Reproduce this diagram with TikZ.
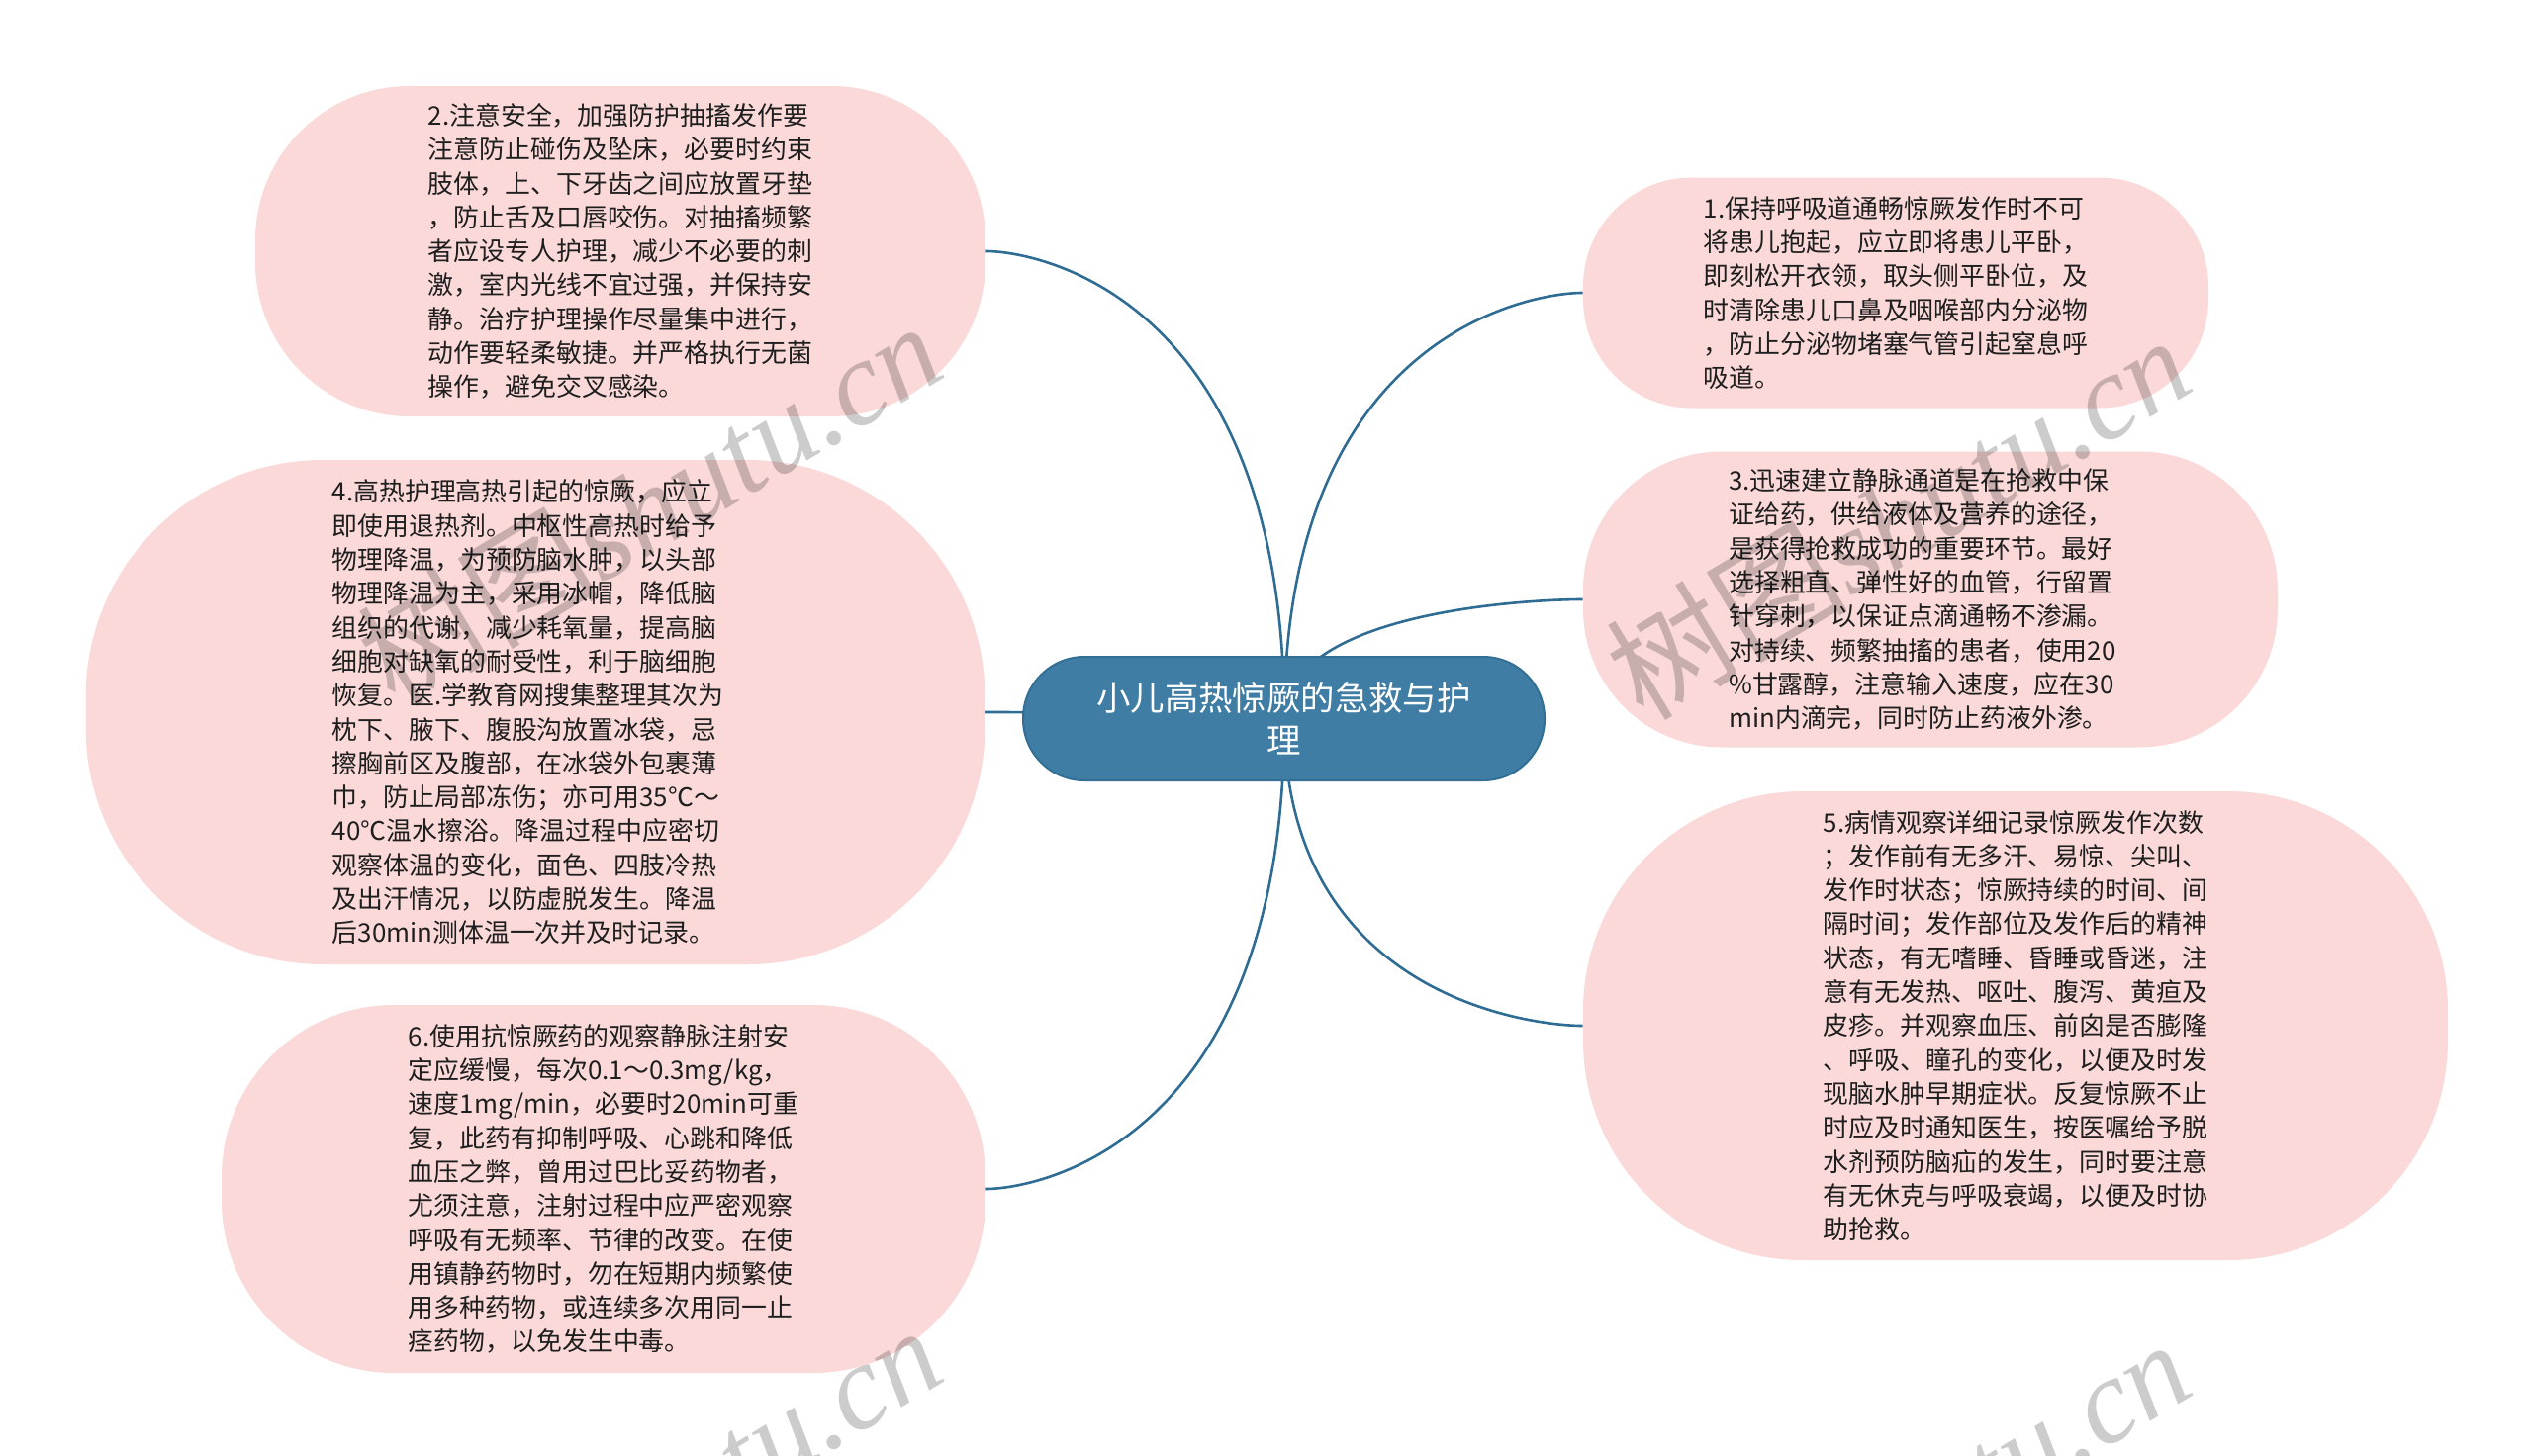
\documentclass[tikz,border=0pt]{standalone}
\usepackage{fontspec}
\setmainfont{Noto Sans CJK SC}
\newfontfamily\wmcjk{Noto Sans CJK SC}
\newfontfamily\wmserif{Liberation Serif}
\definecolor{pinkfill}{HTML}{FBD9D9}
\definecolor{mainfill}{HTML}{3F7DA5}
\definecolor{mainborder}{HTML}{336E94}
\definecolor{linkcol}{HTML}{2F6C94}
\definecolor{bodytext}{HTML}{1E1E1E}
\tikzset{
  topic/.style={fill=pinkfill, draw=none, inner sep=0pt, align=left, text=bodytext,
    font=\fontsize{12.95}{17.15}\selectfont},
  root/.style={fill=mainfill, draw=mainborder, line width=1pt, rounded corners=31pt,
    minimum width=263.5pt, minimum height=62.5pt, align=center, text=white,
    font=\fontsize{17.2}{21.25}\selectfont, inner sep=0pt},
  link/.style={draw=linkcol, line width=1.3pt},
  wmark/.style={rotate=31, text=black, opacity=0.2, inner sep=0pt}
}
\newcommand{\wmtext}{\fontsize{61}{61}\selectfont{\wmcjk 树图}{\wmserif\itshape shutu.cn}}
\begin{document}
\begin{tikzpicture}[x=0.5pt, y=-0.5pt]
\useasboundingbox (0,0) rectangle (2560,1472);
\clip (0,0) rectangle (2560,1472);
\fill[white] (0,0) rectangle (2560,1472);

% topic nodes
\node[topic, minimum width=369pt, minimum height=167pt, rounded corners=78pt] (n2) at (627,254) {%
2.注意安全，加强防护抽搐发作要\\
注意防止碰伤及坠床，必要时约束\\
肢体，上、下牙齿之间应放置牙垫\\
，防止舌及口唇咬伤。对抽搐频繁\\
者应设专人护理，减少不必要的刺\\
激，室内光线不宜过强，并保持安\\
静。治疗护理操作尽量集中进行，\\
动作要轻柔敏捷。并严格执行无菌\\
操作，避免交叉感染。\hspace*{12pt}};

\node[topic, minimum width=454.5pt, minimum height=255pt, rounded corners=120pt] (n4) at (541,720) {%
4.高热护理高热引起的惊厥，应立\\
即使用退热剂。中枢性高热时给予\\
物理降温，为预防脑水肿，以头部\\
物理降温为主，采用冰帽，降低脑\\
组织的代谢，减少耗氧量，提高脑\\
细胞对缺氧的耐受性，利于脑细胞\\
恢复。医.学教育网搜集整理其次为\\
枕下、腋下、腹股沟放置冰袋，忌\\
擦胸前区及腹部，在冰袋外包裹薄\\
巾，防止局部冻伤；亦可用35℃～\\
40℃温水擦浴。降温过程中应密切\\
观察体温的变化，面色、四肢冷热\\
及出汗情况，以防虚脱发生。降温\\
后30min测体温一次并及时记录。\hspace*{12pt}};

\node[topic, minimum width=386pt, minimum height=186pt, rounded corners=87pt] (n6) at (610,1202) {%
6.使用抗惊厥药的观察静脉注射安\\
定应缓慢，每次0.1～0.3mg/kg，\\
速度1mg/min，必要时20min可重\\
复，此药有抑制呼吸、心跳和降低\\
血压之弊，曾用过巴比妥药物者，\\
尤须注意，注射过程中应严密观察\\
呼吸有无频率、节律的改变。在使\\
用镇静药物时，勿在短期内频繁使\\
用多种药物，或连续多次用同一止\\
痉药物，以免发生中毒。\hspace*{10pt}};

\node[topic, minimum width=316pt, minimum height=116.5pt, rounded corners=55pt] (n1) at (1916,296) {%
1.保持呼吸道通畅惊厥发作时不可\\
将患儿抱起，应立即将患儿平卧，\\
即刻松开衣领，取头侧平卧位，及\\
时清除患儿口鼻及咽喉部内分泌物\\
，防止分泌物堵塞气管引起窒息呼\\
吸道。\hspace*{12pt}};

\node[topic, minimum width=351pt, minimum height=149.5pt, rounded corners=70pt] (n3) at (1951,606) {%
3.迅速建立静脉通道是在抢救中保\\
证给药，供给液体及营养的途径，\\
是获得抢救成功的重要环节。最好\\
选择粗直、弹性好的血管，行留置\\
针穿刺，以保证点滴通畅不渗漏。\\
对持续、频繁抽搐的患者，使用20\\
\%甘露醇，注意输入速度，应在30\\
min内滴完，同时防止药液外渗。\hspace*{12pt}};

\node[topic, minimum width=437pt, minimum height=237pt, rounded corners=111pt] (n5) at (2037,1037) {%
5.病情观察详细记录惊厥发作次数\\
；发作前有无多汗、易惊、尖叫、\\
发作时状态；惊厥持续的时间、间\\
隔时间；发作部位及发作后的精神\\
状态，有无嗜睡、昏睡或昏迷，注\\
意有无发热、呕吐、腹泻、黄疸及\\
皮疹。并观察血压、前囟是否膨隆\\
、呼吸、瞳孔的变化，以便及时发\\
现脑水肿早期症状。反复惊厥不止\\
时应及时通知医生，按医嘱给予脱\\
水剂预防脑疝的发生，同时要注意\\
有无休克与呼吸衰竭，以便及时协\\
助抢救。\hspace*{12pt}};

% centre point of the root (links start there, root drawn on top)
\coordinate (cc) at (1298,727);

% connectors
\draw[link] (cc) .. controls (1298,301) and (1050,254) .. (n2.east);
\draw[link] (cc) .. controls (1298,721) and (1050,720) .. (n4.east);
\draw[link] (cc) .. controls (1298,1154) and (1050,1202) .. (n6.east);
\draw[link] (cc) .. controls (1298,339) and (1546,296) .. (n1.west);
\draw[link] (cc) .. controls (1298,618) and (1546,606) .. (n3.west);
\draw[link] (cc) .. controls (1298,1006) and (1546,1037) .. (n5.west);

\node[root] (root) at (1297.5,726.5) {小儿高热惊厥的急救与护\\理};

% watermarks
\node[wmark] (w1) at (656,508) {\wmtext};
\node[wmark] (w2) at (1918,522) {\wmtext};
\node[wmark] (w3) at (656,1523) {\wmtext};
\node[wmark] (w4) at (1918,1537) {\wmtext};
\end{tikzpicture}
\end{document}
